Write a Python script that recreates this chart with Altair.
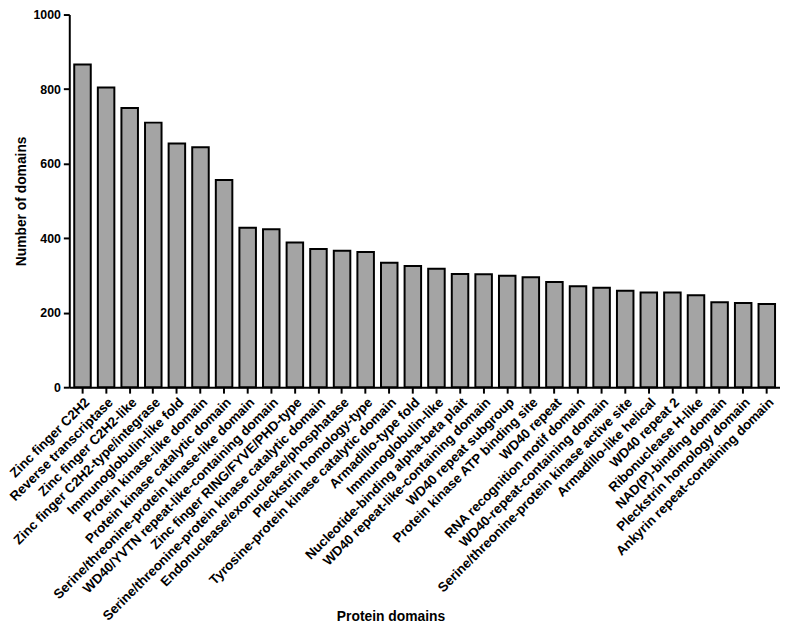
import altair as alt
import pandas as pd

domains = [
    "Zinc finger C2H2",
    "Reverse transcriptase",
    "Zinc finger C2H2-like",
    "Zinc finger C2H2-type/integrase",
    "Immunoglobulin-like fold",
    "Protein kinase-like domain",
    "Protein kinase catalytic domain",
    "Serine/threonine-protein kinase-like domain",
    "WD40/YVTN repeat-like-containing domain",
    "Zinc finger RING/FYVE/PHD-type",
    "Serine/threonine-protein kinase catalytic  domain",
    "Endonuclease/exonuclease/phosphatase",
    "Pleckstrin homology-type",
    "Tyrosine-protein kinase catalytic domain",
    "Armadillo-type fold",
    "Immunoglobulin-like",
    "Nucleotide-binding alpha-beta plait",
    "WD40 repeat-like-containing domain",
    "WD40 repeat subgroup",
    "Protein kinase ATP binding site",
    "WD40 repeat",
    "RNA recognition motif domain",
    "WD40-repeat-containing domain",
    "Serine/threonine-protein kinase active site",
    "Armadillo-like helical",
    "WD40 repeat 2",
    "Ribonuclease H-like",
    "NAD(P)-binding domain",
    "Pleckstrin homology domain",
    "Ankyrin repeat-containing domain",
]
counts = [866, 804, 749, 710, 654, 644, 556, 428, 424, 388, 371, 366, 363, 334, 325,
          318, 304, 303, 299, 295, 282, 271, 267, 259, 254, 254, 247, 228, 226, 223]
y_ticks = [0, 200, 400, 600, 800, 1000]

df = pd.DataFrame({"domain": domains, "count": counts})

FONT = "Liberation Sans"

chart = alt.Chart(df).mark_bar(
    fill="#a4a4a4", stroke="black", strokeWidth=2
).encode(
    x=alt.X(
        "domain:N",
        sort=domains,
        scale=alt.Scale(paddingInner=0.3, paddingOuter=0.21),
        axis=alt.Axis(
            title="Protein domains",
            labelAngle=-45,
            labelFontSize=13.5,
            labelFontWeight="bold",
            labelFont=FONT,
            labelColor="black",
            labelPadding=2,
            labelLimit=0,
            tickSize=6,
            tickWidth=2,
            tickColor="black",
            domainColor="black",
            domainWidth=2,
            titleFont=FONT,
            titleFontSize=14,
            titleFontWeight="bold",
            titleColor="black",
            titleX=325,
            titleY=236,
            titleAlign="center",
            titleBaseline="alphabetic",
        ),
    ),
    y=alt.Y(
        "count:Q",
        scale=alt.Scale(domain=[0, 1000], nice=False),
        axis=alt.Axis(
            title="Number of domains",
            values=y_ticks,
            format="d",
            grid=False,
            labelFontSize=12.5,
            labelFontWeight="bold",
            labelFont=FONT,
            labelColor="black",
            labelPadding=3,
            tickSize=6,
            tickWidth=2,
            tickColor="black",
            domainColor="black",
            domainWidth=2,
            titleFont=FONT,
            titleFontSize=14,
            titleFontWeight="bold",
            titleColor="black",
            titlePadding=4,
        ),
    ),
).properties(
    width=719,
    height=377,
    padding={"left": -2, "top": -3, "right": 0, "bottom": 0},
).configure_view(stroke=None)

chart.save("out.html", embed_options={"renderer": "svg", "actions": False})
